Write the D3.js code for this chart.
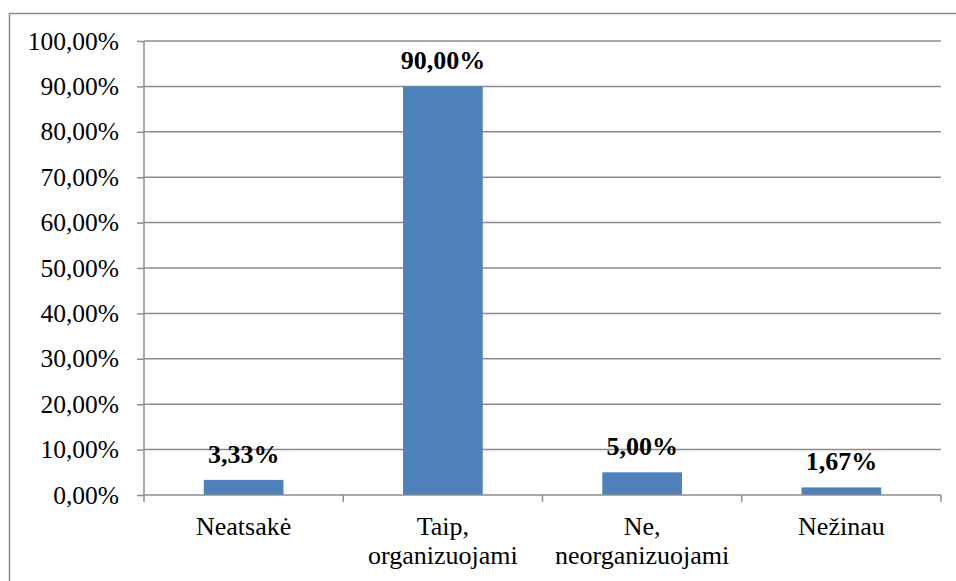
<!DOCTYPE html>
<html>
<head>
<meta charset="utf-8">
<script src="https://cdn.jsdelivr.net/npm/d3@7/dist/d3.min.js"></script>
<style>
  html, body { margin: 0; padding: 0; background: #fff; }
  svg { display: block; }
</style>
</head>
<body>
<svg id="chart" width="956" height="581"></svg>
<script>
// Survey answers and their shares (%)
const categories = [["Neatsakė"], ["Taip,", "organizuojami"], ["Ne,", "neorganizuojami"], ["Nežinau"]];
const values = [3.33, 90.00, 5.00, 1.67];
const yTicks = [0, 10, 20, 30, 40, 50, 60, 70, 80, 90, 100];

const FONT = "Liberation Serif";
const fmt = v => v.toFixed(2).replace(".", ",") + "%";

const svg = d3.select("#chart");
const W = 956, H = 581;
const margin = { left: 144, right: 15, top: 41, bottom: 86 };

// outer frame (extends past the right and bottom edges)
svg.append("rect")
  .attr("x", 9.5).attr("y", 13.5)
  .attr("width", 960).attr("height", 600)
  .attr("fill", "none").attr("stroke", "#8c8c8c").attr("stroke-width", 1.5);

const x = d3.scaleBand()
  .domain(d3.range(categories.length))
  .range([margin.left, W - margin.right])
  .paddingInner(0.6).paddingOuter(0.3);

const y = d3.scaleLinear().domain([0, 100]).range([H - margin.bottom, margin.top]);

// horizontal gridlines
svg.append("g").selectAll("line").data(yTicks.filter(d => d > 0)).join("line")
  .attr("x1", margin.left).attr("x2", W - margin.right)
  .attr("y1", d => y(d)).attr("y2", d => y(d))
  .attr("stroke", "#8c8c8c").attr("stroke-width", 1.5);

// bars
svg.append("g").selectAll("rect").data(values).join("rect")
  .attr("x", (d, i) => x(i))
  .attr("width", x.bandwidth())
  .attr("y", d => y(d))
  .attr("height", d => y(0) - y(d))
  .attr("fill", "#4f81bd");

// y axis
const yAxis = svg.append("g")
  .attr("transform", `translate(${margin.left},0)`)
  .call(d3.axisLeft(y).tickValues(yTicks).tickFormat(fmt).tickSize(7).tickPadding(18));
yAxis.selectAll("path, line").attr("stroke", "#8c8c8c").attr("stroke-width", 1.5);
yAxis.select(".domain").attr("d", `M0,${y(100)}V${y(0)}`);
yAxis.selectAll("text")
  .style("font-family", FONT).style("font-size", "25.5px").attr("fill", "#000");

// x axis with ticks at category boundaries
const xAxisG = svg.append("g").attr("transform", `translate(0,${y(0)})`);
xAxisG.append("line")
  .attr("x1", margin.left).attr("x2", W - margin.right)
  .attr("stroke", "#8c8c8c").attr("stroke-width", 1.5);
const bounds = d3.range(categories.length + 1).map(i => margin.left + i * (W - margin.right - margin.left) / categories.length);
xAxisG.selectAll("line.tick").data(bounds).join("line")
  .attr("class", "tick")
  .attr("x1", d => d).attr("x2", d => d).attr("y1", 0).attr("y2", 7)
  .attr("stroke", "#8c8c8c").attr("stroke-width", 1.5);

// category labels
const catG = svg.append("g");
categories.forEach((lines, i) => {
  const cx = x(i) + x.bandwidth() / 2;
  const t = catG.append("text")
    .attr("text-anchor", "middle")
    .attr("x", cx)
    .attr("y", 535)
    .style("font-family", FONT).style("font-size", "26px");
  lines.forEach((ln, j) => {
    t.append("tspan").attr("x", cx).attr("dy", j === 0 ? 0 : 29).text(ln);
  });
});

// value labels above bars
svg.append("g").selectAll("text").data(values).join("text")
  .attr("text-anchor", "middle")
  .attr("x", (d, i) => x(i) + x.bandwidth() / 2)
  .attr("y", d => y(d) - 17)
  .style("font-family", FONT).style("font-size", "26px").style("font-weight", "bold")
  .text(fmt);
</script>
</body>
</html>
